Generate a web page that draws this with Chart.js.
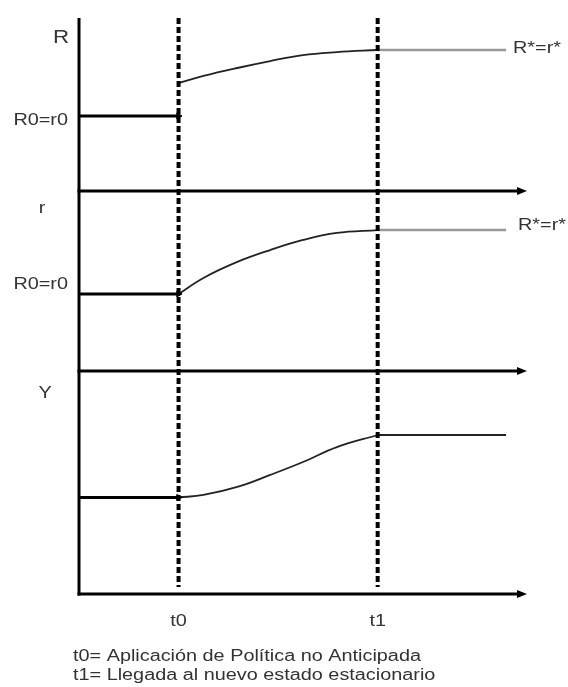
<!DOCTYPE html>
<html lang="es">
<head>
<meta charset="UTF-8">
<title>Política no anticipada</title>
<script src="https://cdn.jsdelivr.net/npm/chart.js"></script>
<style>
  body { margin: 0; background: #fff; }
  #caja { width: 568px; height: 687px; }
</style>
</head>
<body>
<div id="caja"><canvas id="grafico" width="568" height="687"></canvas></div>

<script>
    // tiempos marcados en el eje
    const t0 = 1;
    const t1 = 3;
    const tFin = 4.29;

    // puntos de la transicion entre t0 y t1
    const tiempos = [1, 1.25, 1.59, 1.92, 2.25, 2.59, 3];
    const valoresR = [6.24, 6.65, 7.11, 7.51, 7.86, 8.03, 8.15];
    const valoresr = [4.28, 5.17, 6.06, 6.72, 7.28, 7.67, 7.83];
    const valoresY = [4.33, 4.44, 4.80, 5.34, 5.92, 6.59, 7.13];

    // niveles iniciales y finales
    const R0 = 4.34, r0 = 4.28, Y0 = 4.33;
    const Rfin = 8.15, rfin = 7.83, Yfin = 7.13;

    const nombresPaneles = ['R', 'r', 'Y'];
    const etiquetasT = ['t0', 't1'];
    const notas = [
        't0= Aplicación de Política no Anticipada',
        't1= Llegada al nuevo estado estacionario'
    ];

    function puntos(xs, ys) {
        return xs.map((x, i) => ({ x: x, y: ys[i] }));
    }

    function tramo(eje, datos, color, ancho, curva) {
        return {
            data: datos,
            yAxisID: eje,
            borderColor: color,
            backgroundColor: color,
            borderWidth: ancho,
            pointRadius: 0,
            fill: false,
            tension: curva ? 0.4 : 0
        };
    }

    // linea inicial con una pequena punta en t0
    function inicial(eje, nivel) {
        let d = tramo(eje, puntos([0, t0], [nivel, nivel]), '#000', 3, false);
        d.pointRadius = [0, 3.5];
        d.pointStyle = 'triangle';
        d.pointRotation = 90;
        d.pointBorderWidth = 1;
        return d;
    }

    const escalaPanel = (peso, orden) => ({
        type: 'linear',
        position: 'left',
        stack: 'paneles',
        stackWeight: peso,
        weight: orden,
        min: 0,
        max: 10,
        display: false
    });

    const fuente = "16px 'Liberation Sans', Arial, sans-serif";
    const estiramiento = 1.24;

    function texto(ctx, txt, x, y, alinear, tam) {
        ctx.save();
        ctx.font = tam ? tam + "px 'Liberation Sans', Arial, sans-serif" : fuente;
        ctx.textBaseline = 'middle';
        let ancho = ctx.measureText(txt).width * estiramiento;
        let xi = x;
        if (alinear === 'center') xi = x - ancho / 2;
        if (alinear === 'right') xi = x - ancho;
        ctx.translate(xi, y);
        ctx.scale(estiramiento, 1);
        ctx.textAlign = 'left';
        ctx.fillText(txt, 0, 0);
        ctx.restore();
    }

    const dibujo = {
        id: 'dibujo',
        afterDatasetsDraw(chart) {
            const ctx = chart.ctx;
            const area = chart.chartArea;
            const sx = chart.scales.x;
            const ejes = [chart.scales.yR, chart.scales.yr, chart.scales.yY];
            const x0 = sx.getPixelForValue(0);
            const xFin = sx.getPixelForValue(sx.max);
            const fondo = ejes[2].getPixelForValue(0);

            function linea(a, b, c, d) {
                ctx.beginPath();
                ctx.moveTo(a, b);
                ctx.lineTo(c, d);
                ctx.stroke();
            }

            ctx.save();
            ctx.strokeStyle = '#000';
            ctx.fillStyle = '#000';

            // lineas punteadas en t0 y t1
            ctx.lineWidth = 4;
            ctx.setLineDash([6, 3]);
            [t0, t1].forEach(t => {
                const px = sx.getPixelForValue(t);
                linea(px, area.top, px, fondo - 7);
            });
            ctx.setLineDash([]);

            // eje vertical
            ctx.lineWidth = 3;
            linea(x0, area.top, x0, fondo + 1.5);

            // ejes horizontales con flecha
            ejes.forEach(e => {
                const py = e.getPixelForValue(0);
                linea(x0 - 1.5, py, xFin - 6, py);
                ctx.beginPath();
                ctx.moveTo(xFin, py);
                ctx.lineTo(xFin - 10, py - 4);
                ctx.lineTo(xFin - 10, py + 4);
                ctx.closePath();
                ctx.fill();
            });

            // textos
            ctx.fillStyle = '#333';
            texto(ctx, nombresPaneles[0], 61, ejes[0].getPixelForValue(8.85), 'center', 18);
            texto(ctx, nombresPaneles[1], 42, ejes[1].getPixelForValue(9), 'center');
            texto(ctx, nombresPaneles[2], 45, ejes[2].getPixelForValue(9), 'center');

            texto(ctx, 'R0=r0', 68, ejes[0].getPixelForValue(R0) + 5, 'right');
            texto(ctx, 'R0=r0', 68, ejes[1].getPixelForValue(r0) - 9, 'right');

            texto(ctx, 'R*=r*', 513, ejes[0].getPixelForValue(Rfin) - 1, 'left');
            texto(ctx, 'R*=r*', 518, ejes[1].getPixelForValue(rfin) - 4, 'left');

            [t0, t1].forEach((t, i) => {
                texto(ctx, etiquetasT[i], sx.getPixelForValue(t), fondo + 28, 'center');
            });

            notas.forEach((n, i) => {
                texto(ctx, n, 73, fondo + 63 + i * 19, 'left');
            });

            ctx.restore();
        }
    };

    new Chart(document.getElementById('grafico'), {
        type: 'line',
        data: {
            datasets: [
                // panel R
                inicial('yR', R0),
                tramo('yR', puntos(tiempos, valoresR), '#222', 1.8, true),
                tramo('yR', puntos([t1, tFin], [Rfin, Rfin]), '#999', 2.5, false),
                // panel r
                inicial('yr', r0),
                tramo('yr', puntos(tiempos, valoresr), '#222', 1.8, true),
                tramo('yr', puntos([t1, tFin], [rfin, rfin]), '#999', 2.5, false),
                // panel Y
                inicial('yY', Y0),
                tramo('yY', puntos(tiempos, valoresY), '#222', 1.8, true),
                tramo('yY', puntos([t1, tFin], [Yfin, Yfin]), '#222', 1.8, false)
            ]
        },
        options: {
            responsive: false,
            animation: false,
            layout: { padding: { left: 79, right: 41, top: 18, bottom: 93 } },
            plugins: { legend: { display: false }, tooltip: { enabled: false } },
            scales: {
                x: { type: 'linear', min: 0, max: 4.5, display: false },
                yY: escalaPanel(223, 1),
                yr: escalaPanel(180, 2),
                yR: escalaPanel(173, 3)
            }
        },
        plugins: [dibujo]
    });
</script>
</body>
</html>
